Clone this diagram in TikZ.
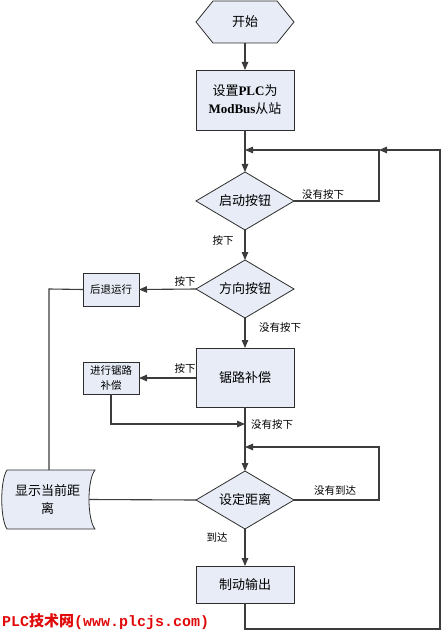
\documentclass[tikz,border=0pt]{standalone}
\usepackage{fontspec}
\setmainfont{Noto Sans CJK SC}
\newfontfamily\lat{Liberation Serif}
\newfontfamily\mono{Liberation Mono}
\usetikzlibrary{shapes.geometric,arrows.meta,calc}
\definecolor{boxfill}{RGB}{231,236,246}
\definecolor{edge}{RGB}{45,45,45}
\definecolor{wire}{RGB}{60,60,60}
\definecolor{wm}{RGB}{225,10,10}
\begin{document}
\begin{tikzpicture}[x=1pt,y=-1pt,
  every node/.style={inner sep=0pt, outer sep=0pt},
  shapeline/.style={draw=edge, fill=boxfill, line width=0.8pt},
  proc/.style={shapeline, align=center, font=\fontsize{13}{18}\selectfont},
  smallproc/.style={shapeline, align=center, font=\fontsize{10.5}{15}\selectfont, minimum width=56pt},
  dec/.style={diamond, shapeline, aspect=1.69, minimum width=98pt, minimum height=58pt, font=\fontsize{13}{18}\selectfont},
  conn/.style={draw=wire, line width=1.1pt, -{Triangle[length=8pt,width=6.5pt]}},
  plain/.style={draw=wire, line width=1.1pt},
  lbl/.style={font=\fontsize{10.5}{12}\selectfont}]
\useasboundingbox (0,0) rectangle (442,631);

% start hexagon
\node[minimum width=98pt, minimum height=42pt] (start) at (245,22) {};
\draw[shapeline] (start.west) -- ($(start.north west)+(17,0)$) -- ($(start.north east)+(-17,0)$)
  -- (start.east) -- ($(start.south east)+(-17,0)$) -- ($(start.south west)+(17,0)$) -- cycle;
\node[font=\fontsize{13}{18}\selectfont] (starttxt) at (start) {开始};

\node[proc, minimum width=98pt, minimum height=60pt] (setup) at (245,100)
  {设置{\lat\bfseries PLC}为\\{\lat\bfseries ModBus}从站};
\node[dec] (d1) at (245,201) {启动按钮};
\node[dec] (d2) at (245,289) {方向按钮};
\node[smallproc, minimum height=33pt] (back) at (111,289.5) {后退运行};
\node[proc, minimum width=98pt, minimum height=59pt] (saw) at (245,377.5) {锯路补偿};
\node[smallproc, minimum height=32pt] (comp) at (111,378) {进行锯路\\补偿};
\node[dec] (d3) at (245,500) {设定距离};
\node[proc, minimum width=98pt, minimum height=37pt] (brake) at (245,584.5) {制动输出};

% stored data shape
\node[minimum width=80pt, minimum height=59pt] (disp) at (49,499.5) {};
\draw[shapeline] (7,470) -- (95,470) .. controls (87,480) and (87,519) .. (95,529)
  -- (7,529) .. controls (0,519) and (0,480) .. (7,470) -- cycle;
\node[font=\fontsize{13}{18}\selectfont, align=center] (disptxt) at (47.5,500) {显示当前距\\离};

% junction coordinates
\coordinate (j1) at (245,150);
\coordinate (j1r) at (379,150);
\coordinate (j2) at (245,424);
\coordinate (j3) at (245,447);
\coordinate (bk) at (49,289);

% connectors
\draw[conn] (start.south) -- (setup.north);
\draw[conn] (setup.south) -- (d1.north);
\draw[conn] (d1.east) -| (j1r) -- (j1);
\draw[conn] (brake.south) -- (245,629) -- (440,629) -- (440,150) -- (j1r);
\draw[conn] (d1.south) -- (d2.north);
\draw[conn] (d2.west) -- (back.east);
\draw[conn] (d2.south) -- (saw.north);
\draw[conn] (saw.west |- comp.east) -- (comp.east);
\draw[conn] (comp.south) |- (j2);
\draw[conn] (saw.south) -- (d3.north);
\draw[conn] (d3.east) -- (379,500) -- (379,447) -- (j3);
\draw[conn] (d3.south) -- (brake.north);
\draw[plain] (d3.west) -- (disp.east);
\draw[plain] (back.west) -- (bk) -- (bk |- disp.north);

% labels
\node[lbl] (l1) at (323,194) {没有按下};
\node[lbl] (l2) at (223,240) {按下};
\node[lbl] (l3) at (185,281) {按下};
\node[lbl] (l4) at (280,327) {没有按下};
\node[lbl] (l5) at (185,368) {按下};
\node[lbl] (l6) at (272,424) {没有按下};
\node[lbl] (l7) at (335,491) {没有到达};
\node[lbl] (l8) at (217,537) {到达};

% watermark
\node[anchor=west, text=wm, font=\bfseries\fontsize{15}{17}\selectfont] (wmk) at (2,622)
  {{\mono PLC}技术网{\mono (www.plcjs.com)}};
\end{tikzpicture}
\end{document}
